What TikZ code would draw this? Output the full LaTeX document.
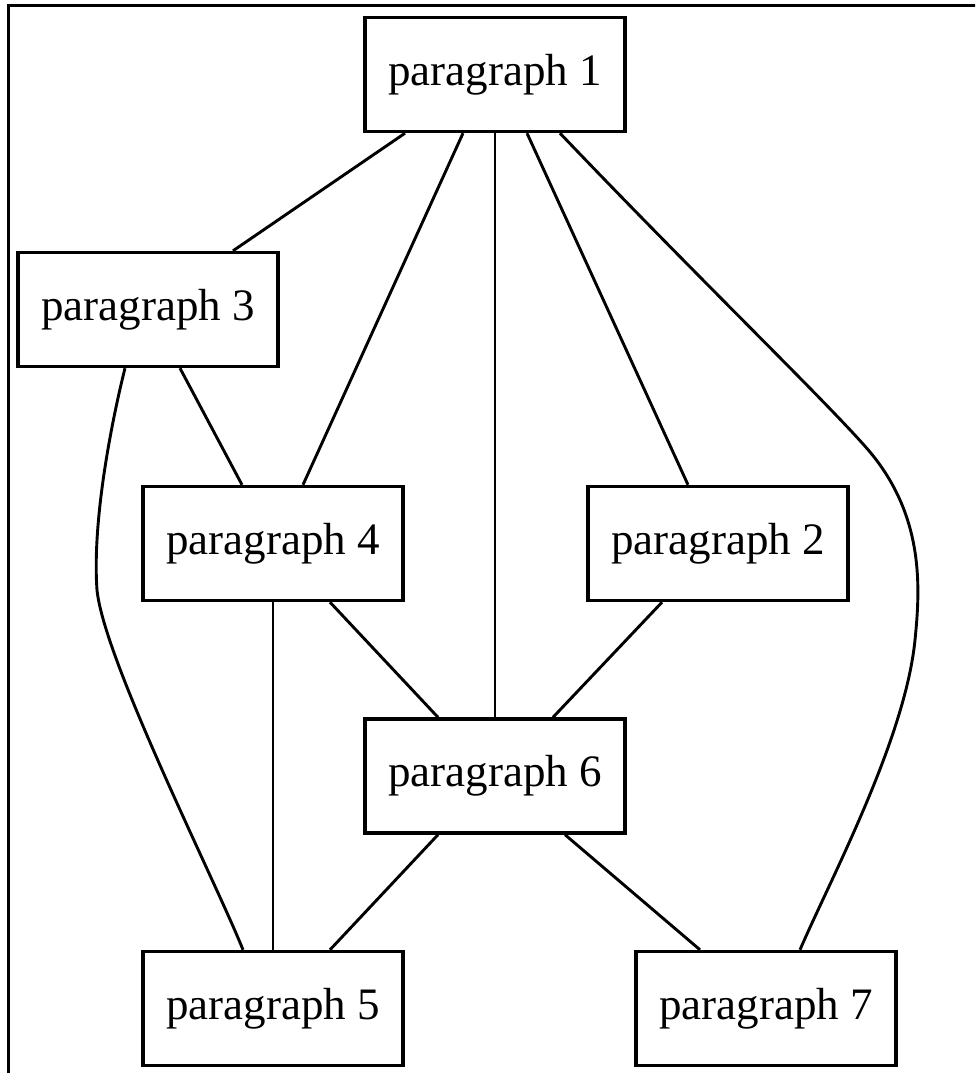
\documentclass[tikz,border=0pt]{standalone}
\usepackage{fontspec}
\setmainfont{Liberation Serif}
\usetikzlibrary{calc}
\tikzset{
  para/.style={draw, line width=3.4pt, minimum width=260pt, minimum height=114pt, inner sep=0pt,
    font=\fontsize{45}{54}\selectfont},
  link/.style={line width=2.9pt}
}
\begin{document}
\begin{tikzpicture}[x=1pt,y=-1pt]
\useasboundingbox (0,0) rectangle (975,1073);
\clip (0,0) rectangle (975,1073);
\draw[line width=3.2pt] (8.5,5.5) rectangle (990,1090);
\node[para] (p1) at (495,74.5) {paragraph 1};
\node[para] (p3) at (148,309.5) {paragraph 3};
\node[para] (p4) at (273,543.5) {paragraph 4};
\node[para] (p2) at (718,543.5) {paragraph 2};
\node[para] (p6) at (495,776) {paragraph 6};
\node[para] (p5) at (273,1008.5) {paragraph 5};
\node[para] (p7) at (766,1008.5) {paragraph 7};
\draw[link] ($(p1.south)+(-90,0)$) -- ($(p3.north)+(85,0)$);
\draw[link] ($(p1.south)+(-32,0)$) -- ($(p4.north)+(30,0)$);
\draw[link] (p1.south) -- (p6.north);
\draw[link] ($(p1.south)+(32,0)$) -- ($(p2.north)+(-30,0)$);
\draw[link] ($(p1.south)+(65,0)$) .. controls (700,280) and (830,405) .. (870,452)
  .. controls (925,518) and (920,590) .. (915,640)
  .. controls (905,740) and (830,880) .. ($(p7.north)+(34,0)$);
\draw[link] ($(p3.south)+(32,0)$) -- ($(p4.north)+(-31,0)$);
\draw[link] ($(p3.south)+(-23,0)$) .. controls (112,420) and (92,520) .. (97,590)
  .. controls (104,660) and (215,880) .. ($(p5.north)+(-30,0)$);
\draw[link] ($(p4.south)+(57,0)$) -- ($(p6.north)+(-57,0)$);
\draw[link] (p4.south) -- (p5.north);
\draw[link] ($(p2.south)+(-56,0)$) -- ($(p6.north)+(58,0)$);
\draw[link] ($(p6.south)+(-57,0)$) -- ($(p5.north)+(57,0)$);
\draw[link] ($(p6.south)+(70,0)$) -- ($(p7.north)+(-66,0)$);
\end{tikzpicture}
\end{document}
